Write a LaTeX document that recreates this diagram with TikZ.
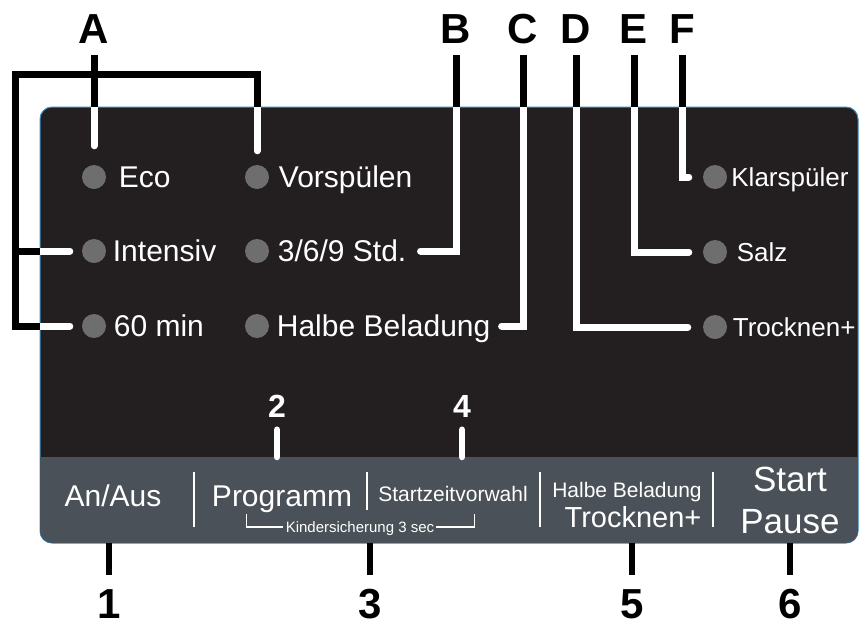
\documentclass[tikz,border=0pt]{standalone}
\usepackage{fontspec}
\setmainfont{Liberation Sans}
\usetikzlibrary{positioning}
\definecolor{panelblack}{HTML}{231F20}
\definecolor{stripgrey}{HTML}{4B5158}
\definecolor{lampgrey}{HTML}{6E6E6E}
\definecolor{rimblue}{HTML}{3C8FC4}
\tikzset{
  lamp/.style={
    circle,
    fill=lampgrey,
    minimum size=24pt,
    inner sep=0pt
  },
  lamptext/.style={
    text=white,
    inner sep=0pt,
    text height=21.5pt,
    text depth=0pt,
    font=\fontsize{30}{36}\selectfont
  },
  smalllamptext/.style={
    lamptext,
    text height=18.6pt,
    font=\fontsize{26}{31}\selectfont
  },
  keytext/.style={
    text=white,
    inner sep=0pt,
    text depth=0pt,
    text height=#1,
    font=\fontsize{30}{36}\selectfont
  },
  letter/.style={
    inner xsep=0pt,
    inner ysep=12pt,
    text height=30pt,
    text depth=0pt,
    font=\bfseries\fontsize{42}{50}\selectfont
  },
  keynumber/.style={
    text=white,
    inner xsep=0pt,
    inner ysep=12pt,
    text height=23pt,
    text depth=0pt,
    font=\bfseries\fontsize{32}{38}\selectfont
  },
  bottomnumber/.style={
    letter,
    inner ysep=2pt
  },
  lead/.style={line width=7pt},
  tick/.style={line width=6.5pt},
  divider/.style={white, line width=2pt},
  bracket/.style={white, line width=1.3pt}
}
% callout lines, drawn twice: black outside the panel, white inside
\newcommand{\leadlines}[1]{%
  \draw[lead, #1] (labA.south) -- (dEco) [shorten >=19pt];
  \draw[lead, #1, shorten <=14pt, shorten >=12pt] (dVor) |- (aL) |- (dSixty);
  \draw[lead, #1, shorten >=12pt] (aL |- dInt) -- (dInt);
  \draw[lead, #1, shorten >=14pt] (labB.south) |- (tStd);
  \draw[lead, #1, shorten >=11pt] (labC.south) |- (tHalb);
  \draw[lead, #1, shorten >=15pt] (labD.south) |- (dTrock);
  \draw[lead, #1, shorten >=14pt] (labE.south) |- (dSalz);
  \draw[lead, #1, shorten >=14pt] (labF.south) |- (dKlar);
}

\begin{document}
\begin{tikzpicture}[x=1pt, y=-1pt]
  \useasboundingbox (0,0) rectangle (860,630);

  % panel
  \fill[panelblack, draw=rimblue, line width=1pt, rounded corners=12pt] (40,107) rectangle (858,543);
  \begin{scope}
    \clip[rounded corners=12pt] (40,107) rectangle (858,543);
    \fill[stripgrey] (40,457) rectangle (858,543);
  \end{scope}
  \coordinate (stripTop) at (0,457);
  \coordinate (stripBot) at (0,543);

  % lamps
  \node[lamp] (dEco) at (94,177) {};
  \node[lamp] (dInt) at (94,251) {};
  \node[lamp] (dSixty) at (94,326) {};
  \node[lamp] (dVor) at (257,177) {};
  \node[lamp] (dStd) at (257,251) {};
  \node[lamp] (dHalb) at (257,326) {};
  \node[lamp] (dKlar) at (715,177) {};
  \node[lamp] (dSalz) at (715,252) {};
  \node[lamp] (dTrock) at (715,327) {};

  \node[lamptext, right=12.5pt of dEco] (tEco) {Eco};
  \node[lamptext, right=6.5pt of dInt] (tInt) {Intensiv};
  \node[lamptext, right=7.5pt of dSixty] (tSixty) {60 min};
  \node[lamptext, right=9.5pt of dVor] (tVor) {Vorspülen};
  \node[lamptext, right=8.5pt of dStd] (tStd) {3/6/9 Std.};
  \node[lamptext, right=7.5pt of dHalb] (tHalb) {Halbe Beladung};
  \node[smalllamptext, right=4pt of dKlar] (tKlar) {Klarspüler};
  \node[smalllamptext, right=9.5pt of dSalz] (tSalz) {Salz};
  \node[smalllamptext, right=5.5pt of dTrock] (tTrock) {Trocknen+};

  % letters
  \node[letter] (labA) at (94,28) {A};
  \node[letter] (labB) at (456,28) {B};
  \node[letter] (labC) at (523,28) {C};
  \node[letter] (labD) at (576,28) {D};
  \node[letter] (labE) at (634,28) {E};
  \node[letter] (labF) at (682,28) {F};
  \coordinate (aL) at (15,74);

  \leadlines{black, line cap=butt}
  \begin{scope}
    \clip[rounded corners=12pt] (40,107) rectangle (858,543);
    \leadlines{white, line cap=round}
  \end{scope}

  % keys
  \node[keytext=21.5pt] (kOnOff) at (113,496) {An/Aus};
  \node[keytext=21.5pt] (kProg) at (282,496) {Programm};
  \node[keytext=15pt, font=\fontsize{21}{25}\selectfont] (kTime) at (453,494) {Startzeitvorwahl};
  \node[keytext=15pt, font=\fontsize{21}{25}\selectfont] (kHalb) at (627,490) {Halbe Beladung};
  \node[keytext=20.8pt, font=\fontsize{29}{35}\selectfont] (kTrock) at (633,517) {Trocknen+};
  \node[keytext=25pt, font=\fontsize{35}{42}\selectfont] (kStart) at (790,479) {Start};
  \node[keytext=25pt, font=\fontsize{35}{42}\selectfont] (kPause) at (790,521) {Pause};
  \node[keytext=10.7pt, font=\fontsize{15}{18}\selectfont] (kinder) at (360,527) {Kindersicherung 3 sec};

  \draw[divider] (194,472) -- (194,527);
  \draw[divider] (367,472) -- (367,510);
  \draw[divider] (540,472) -- (540,527);
  \draw[divider] (713,472) -- (713,527);

  \draw[bracket] (kinder.west) ++(-3,0) -| ++(-36,-13);
  \draw[bracket] (kinder.east) ++(2,0) -| ++(38,-13);

  % key numbers
  \node[keynumber] (lab2) at (277,406) {2};
  \node[keynumber] (lab4) at (462,406) {4};
  \node[bottomnumber] (lab1) at (109,603) {1};
  \node[bottomnumber] (lab3) at (370,603) {3};
  \node[bottomnumber] (lab5) at (632,603) {5};
  \node[bottomnumber] (lab6) at (790,603) {6};

  \draw[tick, white, line cap=round] (lab2.south) -- (lab2 |- stripTop);
  \draw[tick, white, line cap=round] (lab4.south) -- (lab4 |- stripTop);
  \draw[tick, shorten <=11pt] (lab1.north) -- (lab1 |- stripBot);
  \draw[tick, shorten <=11pt] (lab3.north) -- (lab3 |- stripBot);
  \draw[tick, shorten <=11pt] (lab5.north) -- (lab5 |- stripBot);
  \draw[tick, shorten <=11pt] (lab6.north) -- (lab6 |- stripBot);
\end{tikzpicture}
\end{document}
